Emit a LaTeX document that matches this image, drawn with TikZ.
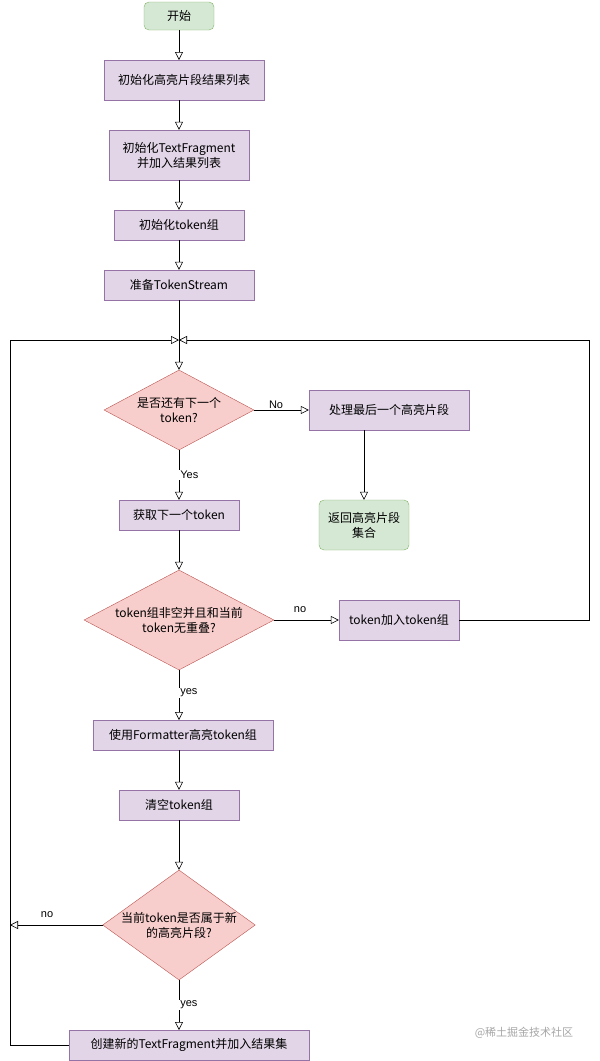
\documentclass[tikz,border=0pt]{standalone}
\usepackage{fontspec}
\setmainfont{Liberation Sans}
\newfontfamily\cjk{Noto Sans CJK SC}
\usetikzlibrary{arrows.meta,shapes.geometric}
\definecolor{pfill}{HTML}{E1D5E7}\definecolor{pline}{HTML}{9673A6}
\definecolor{gfill}{HTML}{D5E8D4}\definecolor{gline}{HTML}{82B366}
\definecolor{rfill}{HTML}{F8CECC}\definecolor{rline}{HTML}{B85450}
\tikzset{
  every node/.style={font=\cjk\fontsize{12}{15}\selectfont, align=center, inner sep=1pt},
  proc/.style={draw=pline, fill=pfill, minimum height=30pt},
  term/.style={draw=gline, fill=gfill, rounded corners=5pt},
  cond/.style={diamond, draw=rline, fill=rfill, aspect=1.9, inner sep=0pt},
  flow/.style={-{Triangle[open,length=8pt,width=8pt]}, semithick},
  lbl/.style={font=\fontsize{11}{13}\selectfont, fill=white, inner sep=1pt}
}
\begin{document}
\begin{tikzpicture}[x=1pt,y=-1pt]
  \useasboundingbox (0,0) rectangle (600,1061);

  \node[term, minimum width=70pt, minimum height=28pt] (start) at (179,16) {开始};
  \node[proc, minimum width=160pt, minimum height=40pt] (initlist) at (184,80) {初始化高亮片段结果列表};
  \node[proc, minimum width=140pt, minimum height=50pt] (initfrag) at (179,155) {初始化TextFragment\\并加入结果列表};
  \node[proc, minimum width=130pt] (initgrp) at (179,225) {初始化token组};
  \node[proc, minimum width=150pt] (stream) at (179,285) {准备TokenStream};
  \coordinate (join) at (179,340);
  \node[cond, minimum width=150pt, minimum height=80pt] (hasnext) at (179,410) {是否还有下一个\\token?};
  \node[proc, minimum width=160pt, minimum height=40pt] (last) at (389,410) {处理最后一个高亮片段};
  \node[term, minimum width=90pt, minimum height=50pt] (ret) at (364,525) {返回高亮片段\\集合};
  \node[proc, minimum width=120pt] (next) at (179,515) {获取下一个token};
  \node[cond, minimum width=190pt, minimum height=100pt] (nonempty) at (179,620) {token组非空并且和当前\\token无重叠?};
  \node[proc, minimum width=120pt, minimum height=40pt] (addtok) at (399,620) {token加入token组};
  \node[proc, minimum width=180pt] (fmt) at (183,735) {使用Formatter高亮token组};
  \node[proc, minimum width=120pt] (clear) at (179,805) {清空token组};
  \node[cond, aspect=1.4, minimum width=150pt, minimum height=110pt] (isnew) at (179,925) {当前token是否属于新\\的高亮片段?};
  \node[proc, minimum width=240pt] (create) at (189,1045) {创建新的TextFragment并加入结果集};
  \node[font=\cjk\fontsize{11}{13}\selectfont, text=black!35] (mark) at (524,1033) {@稀土掘金技术社区};
  \coordinate (listtop) at (179,60);
  \coordinate (listbot) at (179,100);
  \coordinate (fmttop) at (179,720);
  \coordinate (fmtbot) at (179,750);
  \coordinate (createtop) at (179,1030);
  \coordinate (lastbot) at (364,430);
  \coordinate (leftend) at (10,925);

  % main line
  \draw[flow] (start) -- (listtop);
  \draw[flow] (listbot) -- (initfrag);
  \draw[flow] (initfrag) -- (initgrp);
  \draw[flow] (initgrp) -- (stream);
  \draw[semithick] (stream) -- (join);
  \draw[flow] (join) -- (hasnext);
  \draw[flow] (hasnext) -- node[lbl, above, pos=0.4] {No} (last);
  \draw[flow] (lastbot) -- (ret);
  \draw[flow] (hasnext) -- node[lbl, right, pos=0.5] {Yes} (next);
  \draw[flow] (next) -- (nonempty);
  \draw[flow] (nonempty) -- node[lbl, above=6pt, pos=0.4] {no} (addtok);
  \draw[flow] (nonempty) -- node[lbl, right, pos=0.45] {yes} (fmttop);
  \draw[flow] (fmtbot) -- (clear);
  \draw[flow] (clear) -- (isnew);
  \draw[flow] (isnew) -- node[lbl, right, pos=0.5] {yes} (createtop);
  \draw[flow] (isnew) -- node[lbl, above=6pt, pos=0.6] {no} (leftend);
  % loops back
  \draw[flow] (create.west) -- (10,1045) -- (10,340) -- (join);
  \draw[flow] (addtok.east) -- (589,620) -- (589,340) -- (join);
\end{tikzpicture}
\end{document}
